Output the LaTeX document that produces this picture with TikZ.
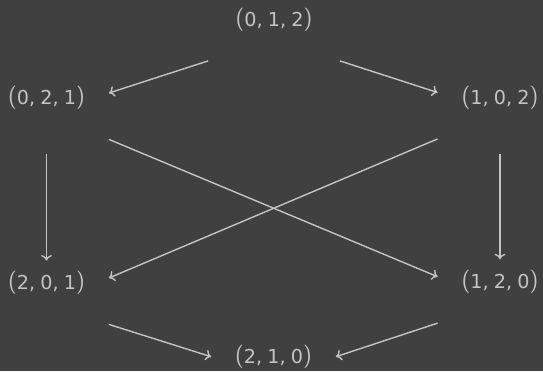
\documentclass[tikz,border=0pt]{standalone}
\usepackage{fontspec}
\newfontfamily\digfont{DejaVu Sans}
\usetikzlibrary{arrows.meta}
\definecolor{bgc}{HTML}{404040}
\definecolor{fgc}{HTML}{C4C4C4}
\newcommand{\parenfont}{\fontsize{11.5}{12}\selectfont\sffamily}
\newcommand{\triple}[3]{\raisebox{0.5pt}{\parenfont(}{\fontsize{9.6}{10}\selectfont\digfont #1,\hspace{2.6pt}#2,\hspace{2.6pt}#3}\raisebox{0.5pt}{\parenfont)}}
\begin{document}
\begin{tikzpicture}[x=0.5pt,y=-0.5pt,
  lbl/.style={text=fgc, inner sep=0pt, text height=11.8pt, text depth=0pt,
    minimum width=62pt, minimum height=46pt},
  arr/.style={draw=fgc, line width=0.7pt,
    -{Computer Modern Rightarrow[length=2.8pt,width=5.4pt]}},
  vshort/.style={shorten <=7.5pt, shorten >=-14.5pt}]
\fill[bgc] (0,0) rectangle (543,371);
\useasboundingbox (0,0) rectangle (543,371);
\node[lbl, minimum width=65.5pt] (t) at (274,14.5) {\triple 012};
\node[lbl] (a) at (46.5,93) {\triple 021};
\node[lbl] (b) at (500,92.5) {\triple 102};
\node[lbl] (c) at (46.5,278) {\triple 201};
\node[lbl] (d) at (500,276.7) {\triple 120};
\node[lbl, text height=6.8pt] (e) at (273.5,356.7) {\triple 210};
\draw[arr] (t.south west) -- (a.east);
\draw[arr] (t.south east) -- (b.west);
\draw[arr, vshort] (a.south) -- (c.north);
\draw[arr, vshort] (b.south) -- (d.north);
\draw[arr] (a.south east) -- (d.west);
\draw[arr] (b.south west) -- (c.east);
\draw[arr] (c.south east) -- (e.west);
\draw[arr] (d.south west) -- (e.east);
\end{tikzpicture}
\end{document}
